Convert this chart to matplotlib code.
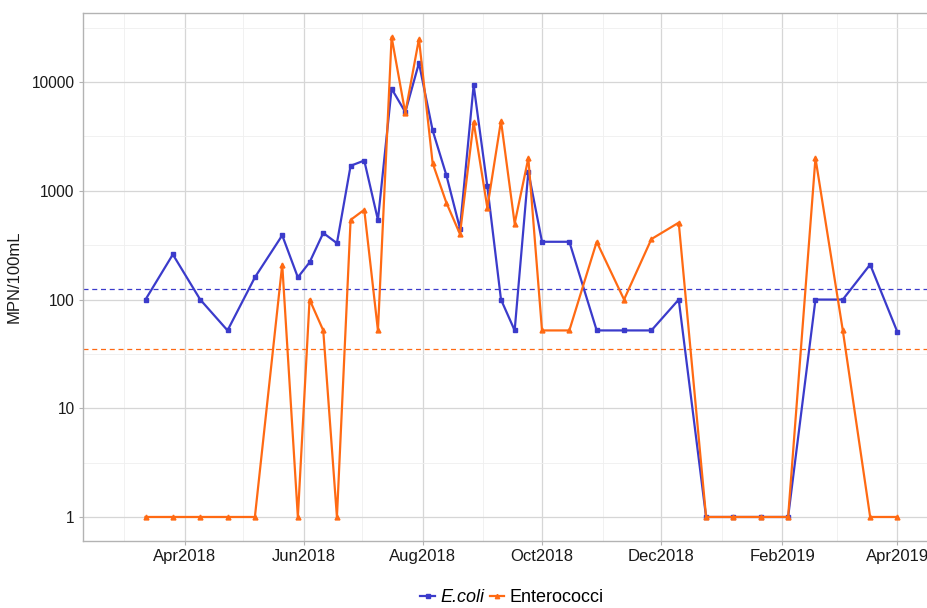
import matplotlib
matplotlib.use('Agg')
from matplotlib import pyplot as plt
import matplotlib.dates as mdates
import numpy as np
import pandas as pd

dates = ['2018-03-12', '2018-03-26', '2018-04-09', '2018-04-23', '2018-05-07',
         '2018-05-21', '2018-05-29', '2018-06-04', '2018-06-11', '2018-06-18',
         '2018-06-25', '2018-07-02', '2018-07-09', '2018-07-16', '2018-07-23',
         '2018-07-30', '2018-08-06', '2018-08-13', '2018-08-20', '2018-08-27',
         '2018-09-03', '2018-09-10', '2018-09-17', '2018-09-24', '2018-10-01',
         '2018-10-15', '2018-10-29', '2018-11-12', '2018-11-26', '2018-12-10',
         '2018-12-24', '2019-01-07', '2019-01-21', '2019-02-04', '2019-02-18',
         '2019-03-04', '2019-03-18', '2019-04-01']

ecoli = [100, 260, 100, 52, 160, 390, 160, 220, 410, 330,
         1700, 1900, 540, 8700, 5300, 15000, 3600, 1400, 450, 9400,
         1100, 100, 52, 1500, 340, 340, 52, 52, 52, 100,
         1, 1, 1, 1, 100, 100, 210, 50]

entero = [1, 1, 1, 1, 1, 210, 1, 100, 52, 1,
          540, 670, 52, 26000, 5200, 25000, 1800, 780, 400, 4300,
          700, 4400, 500, 2000, 52, 52, 340, 100, 360, 510,
          1, 1, 1, 1, 2000, 52, 1, 1]

ecoli_limit = 126
entero_limit = 35

BLUE = '#3B3BCB'
ORANGE = '#FF6A13'


def main():
    df = pd.DataFrame({'date': pd.to_datetime(dates), 'ecoli': ecoli, 'entero': entero})

    plt.rcParams['font.family'] = ['Liberation Sans', 'DejaVu Sans']
    fig = plt.figure(figsize=(9.28, 6.08), dpi=100)
    # panel runs past the right edge, as in the cropped original
    ax = fig.add_axes([83 / 928, 67 / 608, 877 / 928, 528 / 608])

    ax.plot(df['date'], df['ecoli'], color=BLUE, lw=1.6, marker='s', ms=3.5,
            label='E.coli', zorder=3)
    ax.plot(df['date'], df['entero'], color=ORANGE, lw=1.6, marker='^', ms=3.5,
            label='Enterococci', zorder=3)
    ax.axhline(ecoli_limit, color=BLUE, ls=(0, (4, 3)), lw=0.9, zorder=2)
    ax.axhline(entero_limit, color=ORANGE, ls=(0, (4, 3)), lw=0.9, zorder=2)

    ax.set_yscale('log')
    ax.set_yticks([1, 10, 100, 1000, 10000])
    ax.set_yticklabels(['1', '10', '100', '1000', '10000'])
    ax.set_yticks([10 ** (k + 0.5) for k in range(0, 5)], minor=True)
    ax.yaxis.set_minor_formatter(plt.NullFormatter())
    ax.set_ylim(10 ** -0.221, 10 ** 4.636)

    majors = pd.date_range('2018-04-01', '2019-04-01', freq='2MS')
    ax.set_xticks(majors)
    ax.xaxis.set_major_formatter(mdates.DateFormatter('%b%Y'))
    minors = pd.date_range('2018-03-01', '2019-05-01', freq='2MS')
    ax.set_xticks(minors, minor=True)
    ax.set_xlim(pd.Timestamp('2018-02-08'), pd.Timestamp('2019-05-03'))

    ax.grid(which='major', color='#D6D6D6', lw=0.9)
    ax.grid(which='minor', color='#EFEFEF', lw=0.6)
    ax.set_axisbelow(True)
    for sp in ax.spines.values():
        sp.set_color('#B3B3B3')
        sp.set_linewidth(1.0)
    ax.tick_params(which='major', length=3, color='#B3B3B3',
                   labelcolor='#1A1A1A', pad=3)
    ax.tick_params(axis='x', which='major', labelsize=12)
    ax.tick_params(axis='y', which='major', labelsize=11.2)
    ax.tick_params(which='minor', length=0)

    ax.set_ylabel('MPN/100mL', fontsize=12, color='#1A1A1A', labelpad=7)

    leg = fig.legend(loc='center', bbox_to_anchor=(512 / 928, 1 - 598 / 608), ncol=2,
                     frameon=False, fontsize=13, handlelength=0.8, handletextpad=0.3,
                     columnspacing=0.3, markerscale=0.9)
    leg.get_texts()[0].set_fontstyle('italic')

    plt.savefig('out.png', dpi=100)


if __name__ == "__main__":
    main()
